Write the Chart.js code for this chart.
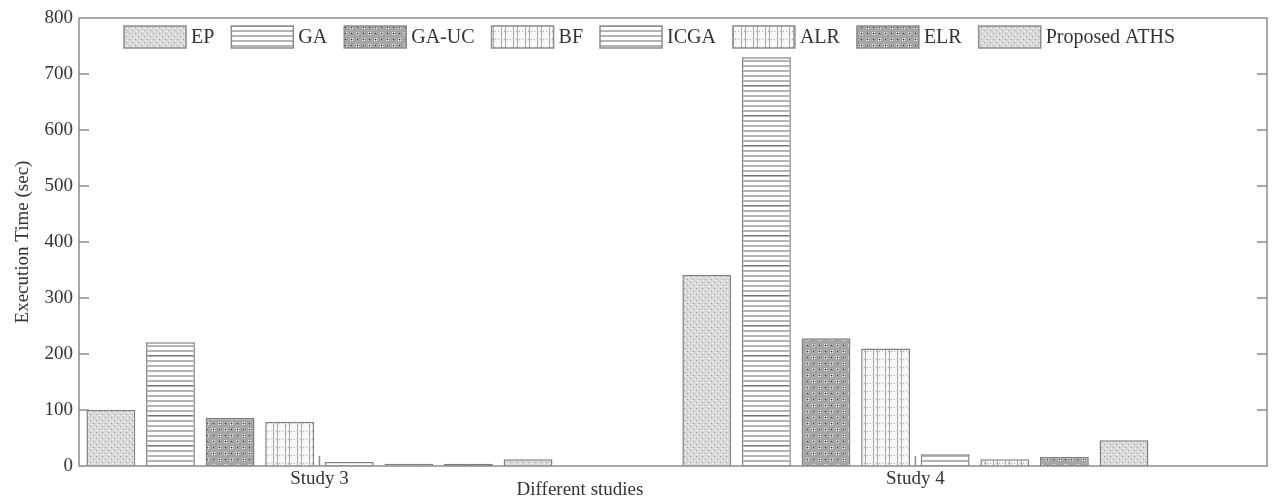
<!DOCTYPE html>
<html>
<head>
<meta charset="utf-8">
<script src="https://cdn.jsdelivr.net/npm/chart.js@4/dist/chart.umd.min.js"></script>
<style>
  html, body { margin: 0; padding: 0; background: #fff; }
  #wrap { width: 1280px; height: 500px; }
</style>
</head>
<body>
<div id="wrap"><canvas id="chart-time"></canvas></div>
<script>
// data
const studies = ["Study 3", "Study 4"];
const studyPos = [1, 2];
const methods = ["EP", "GA", "GA-UC", "BF", "ICGA", "ALR", "ELR", "Proposed ATHS"];
const epTime = [100, 341];
const gaTime = [221, 730];
const gaucTime = [86, 228];
const bfTime = [79, 210];
const icgaTime = [7, 21];
const alrTime = [4, 12];
const elrTime = [4, 16];
const athsTime = [12, 46];
const yTicks = [0, 100, 200, 300, 400, 500, 600, 700, 800];

const FONT = '"Liberation Serif", "Times New Roman", serif';
const TXT = "#333";

// hatch fills
function makePattern(w, h, draw) {
  const c = document.createElement("canvas");
  c.width = w; c.height = h;
  const g = c.getContext("2d");
  draw(g);
  return g.createPattern(c, "repeat");
}
const stipple = makePattern(6, 6, g => {
  g.fillStyle = "#d9d9d9"; g.fillRect(0, 0, 6, 6);
  g.fillStyle = "#9c9c9c"; g.fillRect(0, 0, 1, 1); g.fillRect(3, 3, 1, 1);
  g.fillStyle = "#ffffff"; g.fillRect(1, 4, 1, 1); g.fillRect(4, 1, 1, 1);
});
const hlines = makePattern(4, 30, g => {
  g.fillStyle = "#ffffff"; g.fillRect(0, 0, 4, 30);
  g.fillStyle = "#b4b4b4";
  for (let y = 0; y < 30; y += 5) g.fillRect(0, y, 4, 2);
  g.fillStyle = "#777"; g.fillRect(0, 25, 4, 1);
});
const darkdots = makePattern(12, 12, g => {
  g.fillStyle = "#a6a6a6"; g.fillRect(0, 0, 12, 12);
  g.fillStyle = "#eeeeee";
  [[2, 2], [4, 2], [2, 4], [4, 4], [8, 8], [10, 8], [8, 10], [10, 10]].forEach(p => g.fillRect(p[0], p[1], 1, 1));
  g.fillStyle = "#333";
  [[3, 3], [9, 9], [3, 9], [9, 3]].forEach(p => g.fillRect(p[0], p[1], 1, 1));
});
const gridFill = makePattern(12, 8, g => {
  g.fillStyle = "#f2f2f2"; g.fillRect(0, 0, 12, 8);
  g.fillStyle = "#ffffff"; g.fillRect(0, 3, 12, 2); g.fillRect(5, 0, 2, 8);
  g.fillStyle = "#aaaaaa";
  g.fillRect(1, 0, 1, 8); g.fillRect(9, 0, 1, 8);
  for (let x = 0; x < 12; x += 3) g.fillRect(x, 7, 1, 1);
});

const fills = [stipple, hlines, darkdots, gridFill, hlines, gridFill, darkdots, stipple];
const series = [epTime, gaTime, gaucTime, bfTime, icgaTime, alrTime, elrTime, athsTime];

const datasets = methods.map((m, i) => ({
  label: m,
  data: series[i].map((v, k) => ({ x: studyPos[k], y: v })),
  backgroundColor: fills[i],
  borderColor: "#808080",
  borderWidth: 1.5,
  categoryPercentage: 0.8,
  barPercentage: 0.82
}));

// box, inward ticks, legend and x title
const decor = {
  id: "decor",
  afterDatasetsDraw(chart) {
    const { ctx, chartArea: a, scales } = chart;
    ctx.save();
    ctx.strokeStyle = "#8c8c8c";
    ctx.lineWidth = 1.5;
    ctx.strokeRect(a.left, a.top, a.right - a.left, a.bottom - a.top);
    ctx.beginPath();
    yTicks.slice(1, -1).forEach(v => {
      const y = scales.y.getPixelForValue(v);
      ctx.moveTo(a.left, y); ctx.lineTo(a.left + 10, y);
      ctx.moveTo(a.right, y); ctx.lineTo(a.right - 10, y);
    });
    studyPos.forEach(v => {
      const x = scales.x.getPixelForValue(v);
      ctx.moveTo(x, a.bottom); ctx.lineTo(x, a.bottom - 10);
    });
    ctx.stroke();
    ctx.restore();
  },
  afterDraw(chart) {
    const ctx = chart.ctx;
    ctx.save();
    ctx.font = "20px " + FONT;
    ctx.textBaseline = "middle";
    let x = 124;
    const y = 26, sw = 62, sh = 22;
    chart.data.datasets.forEach(ds => {
      ctx.fillStyle = ds.backgroundColor;
      ctx.fillRect(x, y, sw, sh);
      ctx.strokeStyle = "#8c8c8c";
      ctx.lineWidth = 1.5;
      ctx.strokeRect(x, y, sw, sh);
      ctx.fillStyle = TXT;
      ctx.fillText(ds.label, x + sw + 5, y + sh / 2 + 1);
      x += sw + 5 + ctx.measureText(ds.label).width + 17;
    });
    ctx.font = "19px " + FONT;
    ctx.textAlign = "center";
    ctx.fillText("Different studies", 580, 490);
    ctx.restore();
  }
};

new Chart(document.getElementById("chart-time"), {
  type: "bar",
  data: { datasets },
  plugins: [decor],
  options: {
    responsive: true,
    maintainAspectRatio: false,
    animation: false,
    layout: { padding: { top: 18, right: 13, left: 0, bottom: 0 } },
    plugins: { legend: { display: false }, tooltip: { enabled: false } },
    scales: {
      x: {
        type: "linear",
        offset: false,
        min: 0.5965,
        max: 2.59,
        grid: { display: false, drawTicks: false },
        border: { display: false },
        afterBuildTicks: s => { s.ticks = studyPos.map(v => ({ value: v })); },
        afterFit: s => { s.height = 34; },
        ticks: {
          padding: 2,
          color: TXT,
          font: { family: FONT, size: 19 },
          callback: v => studies[studyPos.indexOf(v)]
        }
      },
      y: {
        min: 0,
        max: 800,
        grid: { display: false, drawTicks: false },
        border: { display: false },
        afterBuildTicks: s => { s.ticks = yTicks.map(v => ({ value: v })); },
        afterFit: s => { s.width = 79; },
        ticks: { padding: 6, color: TXT, font: { family: FONT, size: 19 } },
        title: {
          display: true,
          text: "Execution Time (sec)",
          color: TXT,
          font: { family: FONT, size: 19 },
          padding: { top: 12, bottom: 0 }
        }
      }
    }
  }
});
</script>
</body>
</html>
